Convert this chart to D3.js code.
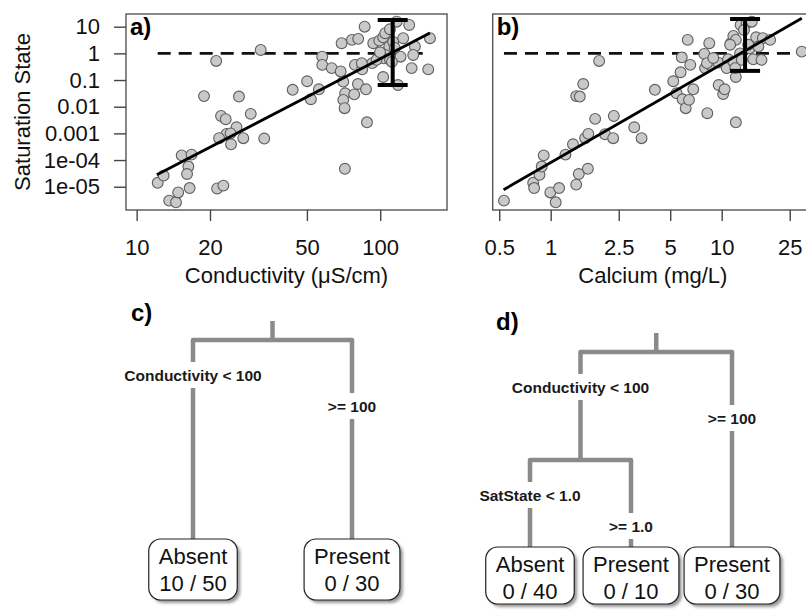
<!DOCTYPE html>
<html>
<head>
<meta charset="utf-8">
<script src="https://cdn.jsdelivr.net/npm/d3@7"></script>
<style>
  body { margin: 0; background: #fff; }
  svg { font-family: "Liberation Sans", Arial, Helvetica, sans-serif; }
</style>
</head>
<body>
<svg id="fig" width="806" height="614"></svg>
<script>
// panel a: conductivity (uS/cm) vs saturation state
const condA = [12.2, 12.9, 13.6, 14.5, 14.8, 15.3, 16.8, 16.3, 16.1, 16.5, 21.4, 22.7, 18.9, 21.2, 26.3,
  22.2, 23.2, 29.4, 25.7, 23.4, 21.8, 24.3, 24.4, 27.4, 33.4, 32.3, 43.7, 50.1, 51.9, 56.0,
  57.8, 57.8, 63.2, 68.8, 70.5, 71.8, 70.5, 71.4, 78.2, 81.0, 87.4, 88.2, 71.6, 69.4, 76.5,
  81.2, 86.3, 78.7, 84.3, 92.7, 93.6, 99.1, 102.8, 104.8, 109.6, 116.8, 108.9, 104.8, 102.8,
  118.2, 121.2, 124.2, 131.5, 134.6, 113, 138.8, 103.5, 109.6, 96.6, 84.0, 160, 157.4, 136.6,
  114.8, 99.8, 111.7];
const satA = [1.4e-5, 2.6e-5, 3.0e-6, 2.6e-6, 6.1e-6, 1.5e-4, 1.6e-4, 5.7e-5, 3.0e-5, 8.9e-6, 8.6e-6, 1.1e-5, 0.025, 0.52, 0.024,
  0.0045, 0.0034, 0.0054, 0.0017, 0.00096, 0.00066, 0.0010, 0.00039, 0.00066, 0.00064, 1.34, 0.043, 0.090, 0.019, 0.045,
  0.75, 0.37, 0.28, 0.21, 0.087, 0.032, 0.018, 0.0088, 0.029, 0.071, 0.045, 0.0026, 4.7e-5, 2.4, 3.2,
  3.5, 10, 0.37, 0.25, 0.43, 2.4, 3.0, 4.0, 5.7, 8.0, 15.4, 1.8, 0.87, 0.13,
  0.065, 0.75, 3.7, 11.6, 0.28, 2.7, 1.8, 0.65, 0.57, 0.57, 0.43, 3.7, 0.25, 0.87,
  1.6, 1.1, 0.48];

// panel b: calcium (mg/L) vs saturation state
const caB = [0.533, 0.79, 0.80, 0.86, 0.886, 0.91, 0.995, 1.07, 1.12, 1.22, 1.35, 1.41, 1.46, 1.65, 1.59,
  1.66, 1.82, 2.08, 2.32, 2.34, 3.08, 3.40, 1.41, 1.48, 1.55, 1.92, 4.07, 5.21, 5.45, 5.91,
  6.16, 6.44, 6.82, 5.75, 6.55, 5.84, 6.33, 7.91, 7.99, 8.55, 8.46, 8.24, 9.6, 10.2, 10.4,
  12.1, 9.55, 10.9, 10.7, 11.3, 11.7, 12.1, 12.9, 14.0, 15.0, 12.1, 11.7, 12.8, 14.6, 15.3,
  15.9, 17.4, 19.2, 17.1, 16.4, 29.4, 8.2, 8.93, 13.5, 14.3, 11.2, 12.0, 13.1];
const satB = [3.0e-6, 1.4e-5, 8.9e-6, 2.8e-5, 5.7e-5, 1.5e-4, 6.1e-6, 2.6e-6, 8.9e-6, 1.6e-4, 3.9e-4, 1.2e-5, 3.0e-5, 4.7e-5, 6.6e-4,
  9.6e-4, 0.0035, 9.3e-4, 6.6e-4, 0.0045, 0.0017, 6.6e-4, 0.025, 0.024, 0.071, 0.52, 0.043, 0.090, 0.032, 0.019,
  0.0088, 0.018, 0.045, 0.196, 0.37, 0.71, 3.2, 0.95, 0.28, 0.37, 2.4, 0.0057, 0.065, 0.030, 0.045,
  0.0026, 0.45, 0.60, 0.28, 2.4, 4.5, 3.2, 11.6, 13.4, 15.4, 0.13, 0.49, 1.0, 1.55, 0.60,
  4.0, 3.7, 3.2, 0.57, 1.8, 1.16, 0.43, 0.67, 7.5, 2.1, 2.1, 0.28, 0.57];

// fitted lines (end points) and error bars
const fitA = { x: [12.1, 160], y: [2.8e-5, 5.8] };
const fitB = { x: [0.53, 29.4], y: [7.7e-6, 20.7] };
const errA = { x: 112.5, lo: 0.065, hi: 17.8 };
const errB = { x: 13.7, lo: 0.22, hi: 19.4 };
const satThreshold = 1;

const satTicks = [10, 1, 0.1, 0.01, 0.001, 1e-4, 1e-5];
const satTickLabels = ["10", "1", "0.1", "0.01", "0.001", "1e-04", "1e-05"];
const condTicks = [10, 20, 50, 100];
const caTicks = [0.5, 1, 2.5, 5, 10, 25];

// classification trees
const treeC = {
  children: [
    { edge: "Conductivity < 100", cls: "Absent", n: "10 / 50" },
    { edge: ">= 100", cls: "Present", n: "0 / 30" }
  ]
};
const treeD = {
  children: [
    {
      edge: "Conductivity < 100",
      children: [
        { edge: "SatState < 1.0", cls: "Absent", n: "0 / 40" },
        { edge: ">= 1.0", cls: "Present", n: "0 / 10" }
      ]
    },
    { edge: ">= 100", cls: "Present", n: "0 / 30" }
  ]
};

const svg = d3.select("#fig");
const plotTop = 14, plotBottom = 210;

const defs = svg.append("defs");
defs.append("filter").attr("id", "shadow")
  .attr("x", "-20%").attr("y", "-20%").attr("width", "140%").attr("height", "140%")
  .append("feGaussianBlur").attr("stdDeviation", 1.6);

const y = d3.scaleLog().domain([1.34e-6, 29.9]).range([plotBottom, plotTop]);

function scatterPanel(opt) {
  const x = d3.scaleLog().domain(opt.domain).range([opt.left, opt.right]);
  const g = svg.append("g");
  const pts = d3.zip(opt.xs, opt.ys);

  // threshold dashed line
  g.append("line")
    .attr("x1", x(d3.min(opt.xs))).attr("x2", x(d3.max(opt.xs)))
    .attr("y1", y(satThreshold)).attr("y2", y(satThreshold))
    .attr("stroke", "#111").attr("stroke-width", 2.6)
    .attr("stroke-dasharray", "13,8");

  g.append("g").selectAll("circle")
    .data(pts)
    .join("circle")
    .attr("cx", d => x(d[0]))
    .attr("cy", d => y(d[1]))
    .attr("r", 5.4)
    .attr("fill", "#c9c9c9")
    .attr("stroke", "#5e5e5e")
    .attr("stroke-width", 1.1);

  g.append("line")
    .attr("x1", x(opt.fit.x[0])).attr("y1", y(opt.fit.y[0]))
    .attr("x2", x(opt.fit.x[1])).attr("y2", y(opt.fit.y[1]))
    .attr("stroke", "#000").attr("stroke-width", 2.8);

  const ex = x(opt.err.x);
  const eb = g.append("g").attr("stroke", "#000").attr("stroke-width", 4);
  eb.append("line").attr("x1", ex).attr("x2", ex)
    .attr("y1", y(opt.err.hi)).attr("y2", y(opt.err.lo));
  [opt.err.hi, opt.err.lo].forEach(v => {
    eb.append("line").attr("x1", ex - 15).attr("x2", ex + 15)
      .attr("y1", y(v)).attr("y2", y(v));
  });

  // box
  g.append("rect")
    .attr("x", opt.left).attr("y", plotTop)
    .attr("width", opt.right - opt.left).attr("height", plotBottom - plotTop)
    .attr("fill", "none").attr("stroke", "#555").attr("stroke-width", 1.4);

  const xa = g.append("g")
    .attr("transform", `translate(0,${plotBottom})`)
    .call(d3.axisBottom(x).tickValues(opt.ticks).tickFormat(d => String(d))
      .tickSize(11).tickPadding(18));
  xa.select(".domain").remove();
  xa.selectAll("line").attr("stroke", "#444").attr("stroke-width", 1.4);
  xa.selectAll("text").attr("font-size", 22).attr("fill", "#111")
    .attr("font-family", "Liberation Sans, Arial, sans-serif");

  g.append("text")
    .attr("x", (opt.left + opt.right) / 2).attr("y", 283)
    .attr("text-anchor", "middle").attr("font-size", 22).attr("fill", "#111")
    .text(opt.xlabel);

  g.append("text")
    .attr("x", opt.left + 4).attr("y", 35)
    .attr("font-size", 24).attr("font-weight", "bold").attr("fill", "#000")
    .text(opt.tag);

  return g;
}

const gA = scatterPanel({
  xs: condA, ys: satA, fit: fitA, err: errA,
  domain: [9.04, 188], left: 126, right: 447,
  ticks: condTicks, xlabel: "Conductivity (\u03bcS/cm)", tag: "a)"
});

const ya = gA.append("g")
  .attr("transform", "translate(126,0)")
  .call(d3.axisLeft(y).tickValues(satTicks)
    .tickFormat((d, i) => satTickLabels[i]).tickSize(12).tickPadding(14));
ya.select(".domain").remove();
ya.selectAll("line").attr("stroke", "#444").attr("stroke-width", 1.4);
ya.selectAll("text").attr("font-size", 22).attr("fill", "#111")
  .attr("font-family", "Liberation Sans, Arial, sans-serif");

svg.append("text")
  .attr("transform", `translate(22,${(plotTop + plotBottom) / 2}) rotate(-90)`)
  .attr("text-anchor", "middle").attr("dominant-baseline", "central")
  .attr("font-size", 22).attr("fill", "#111")
  .text("Saturation State");

scatterPanel({
  xs: caB, ys: satB, fit: fitB, err: errB,
  domain: [0.458, 34.2], left: 492.7, right: 813,
  ticks: caTicks, xlabel: "Calcium (mg/L)", tag: "b)"
});

function drawTree(data, opt) {
  const g = svg.append("g");
  const root = d3.hierarchy(data);
  const leaves = root.leaves();
  const lx = d3.scalePoint().domain(d3.range(leaves.length)).range(opt.leafRange);
  leaves.forEach((l, i) => (l.lx = lx(i)));
  root.eachAfter(n => {
    n.px = n.children ? d3.mean(n.children, c => c.px) : n.lx;
    n.py = n.children ? opt.levels[n.depth] : opt.boxTop;
  });
  const inner = root.descendants().filter(n => n.children);

  const lineStyle = s => s.attr("fill", "none").attr("stroke", "#8a8a8a")
    .attr("stroke-width", 4.5).attr("stroke-linejoin", "round");

  g.append("line")
    .attr("x1", root.px).attr("x2", root.px)
    .attr("y1", opt.stubTop).attr("y2", root.py)
    .call(lineStyle);

  inner.forEach(n => {
    const [a, b] = n.children;
    g.append("path")
      .attr("d", `M${a.px},${a.py}V${n.py}H${b.px}V${b.py}`)
      .call(lineStyle);
  });

  // split labels sit on a white gap in the branch
  inner.forEach(n => {
    n.children.forEach((c, i) => {
      const ty = n.py + 35 + i * 31;
      const t = g.append("text")
        .attr("x", c.px).attr("y", ty)
        .attr("text-anchor", "middle").attr("dominant-baseline", "central")
        .attr("font-size", 15.5).attr("font-weight", "bold").attr("fill", "#1a1a1a")
        .text(c.data.edge);
      const w = t.node().getComputedTextLength();
      g.insert("rect", () => t.node())
        .attr("x", c.px - w / 2 - 2).attr("y", ty - 13)
        .attr("width", w + 4).attr("height", 26)
        .attr("fill", "#fff");
    });
  });

  leaves.forEach(l => {
    const ng = g.append("g");
    const shadow = ng.append("rect");
    const box = ng.append("rect");
    const t1 = ng.append("text").attr("y", opt.boxTop + 17).text(l.data.cls);
    const t2 = ng.append("text").attr("y", opt.boxTop + 44).text(l.data.n);
    ng.selectAll("text")
      .attr("x", l.px).attr("text-anchor", "middle").attr("dominant-baseline", "central")
      .attr("font-size", 22).attr("fill", "#111");
    const w = Math.max(t1.node().getComputedTextLength(), t2.node().getComputedTextLength()) + 20;
    [shadow, box].forEach(r => r
      .attr("x", l.px - w / 2).attr("y", opt.boxTop)
      .attr("width", w).attr("height", opt.boxH)
      .attr("rx", 12).attr("ry", 12));
    shadow.attr("transform", "translate(3,3)").attr("fill", "#9a9a9a")
      .attr("filter", "url(#shadow)");
    box.attr("fill", "#fff").attr("stroke", "#222").attr("stroke-width", 1.2);
  });

  g.append("text")
    .attr("x", opt.tagPos[0]).attr("y", opt.tagPos[1])
    .attr("font-size", 24).attr("font-weight", "bold").attr("fill", "#000")
    .text(opt.tag);
}

drawTree(treeC, {
  leafRange: [193, 352], levels: [340], stubTop: 321,
  boxTop: 539, boxH: 61, tag: "c)", tagPos: [131, 321]
});
drawTree(treeD, {
  leafRange: [530, 732], levels: [352, 460], stubTop: 333,
  boxTop: 547, boxH: 57, tag: "d)", tagPos: [496, 330]
});
</script>
</body>
</html>
